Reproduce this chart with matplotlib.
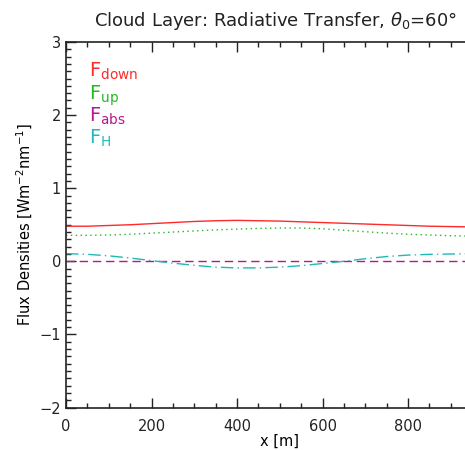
import matplotlib
matplotlib.use("Agg")
import matplotlib.pyplot as plt
from matplotlib.ticker import MultipleLocator, FuncFormatter

x_m = [0, 50, 100, 150, 200, 250, 300, 350, 400, 450, 500, 550, 600, 650, 700, 750, 800, 850, 900, 950, 1000]
f_down = [0.48, 0.48, 0.49, 0.50, 0.515, 0.53, 0.545, 0.555, 0.56, 0.555, 0.55, 0.54, 0.53, 0.52, 0.51, 0.50, 0.49, 0.48, 0.475, 0.47, 0.47]
f_up = [0.355, 0.355, 0.36, 0.37, 0.385, 0.40, 0.415, 0.43, 0.44, 0.45, 0.455, 0.455, 0.445, 0.425, 0.405, 0.385, 0.37, 0.36, 0.35, 0.345, 0.345]
f_abs = [0.01] * 21
f_h = [0.105, 0.095, 0.075, 0.045, 0.01, -0.025, -0.055, -0.08, -0.09, -0.09, -0.08, -0.06, -0.03, 0.0, 0.035, 0.065, 0.085, 0.095, 0.10, 0.105, 0.105]

labels = [r"$\mathrm{F}_{\mathrm{down}}$", r"$\mathrm{F}_{\mathrm{up}}$",
          r"$\mathrm{F}_{\mathrm{abs}}$", r"$\mathrm{F}_{\mathrm{H}}$"]
colors = ["#ff2a2a", "#22b822", "#b8168c", "#22b8b8"]

plt.rcParams["mathtext.fontset"] = "dejavusans"
fig = plt.figure(figsize=(4.65, 4.5), dpi=100)
W, H = 465, 450
left, right, top, bottom = 66, 493.5, 42, 407.5
ax = fig.add_axes([left / W, 1 - bottom / H, (right - left) / W, (bottom - top) / H])

ax.plot(x_m, f_down, color=colors[0], lw=1.0, ls="-")
ax.plot(x_m, f_up, color=colors[1], lw=1.0, ls=(0, (1, 2.5)))
ax.plot(x_m, f_abs, color=colors[2], lw=1.0, ls=(0, (6, 3.5)))
ax.plot(x_m, f_h, color=colors[3], lw=1.0, ls=(0, (9, 3, 1, 3)))

ax.set_xlim(0, 1000)
ax.set_ylim(-2, 3)
ax.xaxis.set_major_locator(MultipleLocator(200))
ax.xaxis.set_minor_locator(MultipleLocator(50))
ax.xaxis.set_major_formatter(FuncFormatter(lambda v, p: "" if v > 950 else f"{v:.0f}"))
ax.yaxis.set_major_locator(MultipleLocator(1))
ax.yaxis.set_minor_locator(MultipleLocator(0.1))
ax.tick_params(which="both", direction="in", top=True, right=True, labelsize=10.5, colors="#222222")
ax.tick_params(which="major", length=7, width=1)
ax.tick_params(which="minor", length=3.5, width=1)
ax.tick_params(axis="x", pad=8)
for s in ax.spines.values():
    s.set_linewidth(1.2)
    s.set_color("#222222")

ax.set_xlabel("x [m]", fontsize=10.5, labelpad=0)
ax.set_ylabel(r"Flux Densities [Wm$^{-2}$nm$^{-1}$]", fontsize=10.5, labelpad=3)
fig.text(275 / W, 1 - 21 / H, r"Cloud Layer: Radiative Transfer, $\theta_0$=60°",
         ha="center", va="center", fontsize=13, color="#222222")

ys = [2.52, 2.215, 1.91, 1.605]
for lab, c, yv in zip(labels, colors, ys):
    ax.text(54, yv, lab, color=c, fontsize=14, ha="left", va="baseline")

fig.savefig("out.png", dpi=100)
